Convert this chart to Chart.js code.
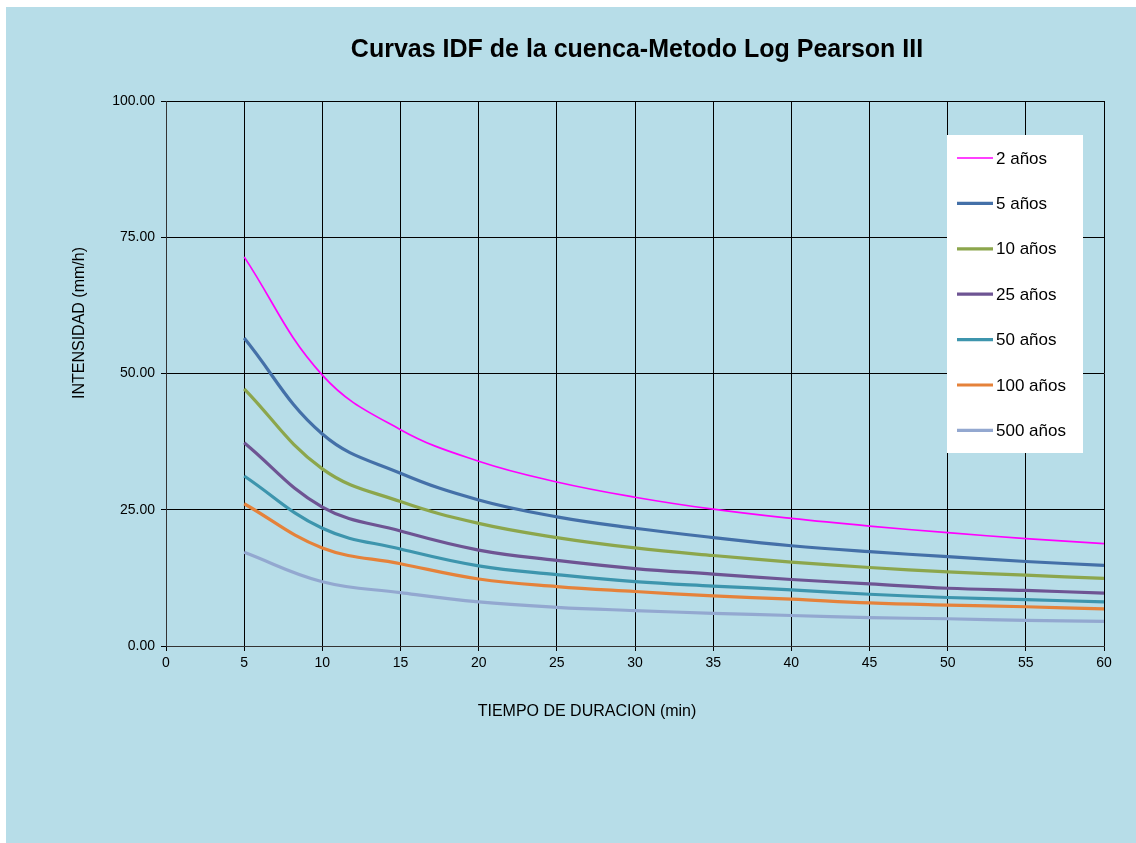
<!DOCTYPE html>
<html>
<head>
<meta charset="utf-8">
<script src="https://cdn.jsdelivr.net/npm/chart.js@4/dist/chart.umd.min.js"></script>
<style>
  html, body { margin: 0; padding: 0; background: #ffffff; }
  #wrap { position: absolute; left: 6px; top: 7px; width: 1130px; height: 836px; background: #b7dde8; }
  canvas { position: absolute; left: 0; top: 0; }
</style>
</head>
<body>
<div id="wrap"></div>
<canvas id="idf" width="1136" height="843"></canvas>
<script>
// duraciones (min)
const duracion = [5, 10, 15, 20, 25, 30, 35, 40, 45, 50, 55, 60];

// intensidades (mm/h) por periodo de retorno
const tr2   = [71.4, 49.7, 39.7, 33.9, 30.1, 27.3, 25.1, 23.4, 22.0, 20.8, 19.7, 18.8];
const tr5   = [56.5, 38.9, 31.7, 26.8, 23.7, 21.6, 19.9, 18.4, 17.3, 16.4, 15.5, 14.8];
const tr10  = [47.2, 32.5, 26.5, 22.5, 19.9, 18.0, 16.6, 15.4, 14.4, 13.6, 13.0, 12.4];
const tr25  = [37.3, 25.5, 21.1, 17.6, 15.7, 14.2, 13.2, 12.2, 11.4, 10.6, 10.2, 9.7];
const tr50  = [31.2, 21.6, 17.8, 14.7, 13.1, 11.8, 11.0, 10.3, 9.5, 8.9, 8.5, 8.1];
const tr100 = [26.1, 18.0, 15.1, 12.3, 10.9, 10.0, 9.2, 8.6, 7.9, 7.5, 7.2, 6.8];
const tr500 = [17.2, 11.8, 9.8, 8.1, 7.1, 6.5, 6.0, 5.6, 5.2, 5.0, 4.7, 4.5];

const etiquetas = ["2 años", "5 años", "10 años", "25 años", "50 años", "100 años", "500 años"];
const colores = ["#ff00ff", "#4470a8", "#8ca64c", "#6e5493", "#3d95ad", "#e5823a", "#93a8d0"];
const series = [tr2, tr5, tr10, tr25, tr50, tr100, tr500];

const titulo = "Curvas IDF de la cuenca-Metodo Log Pearson III";
const tituloX = "TIEMPO DE DURACION (min)";
const tituloY = "INTENSIDAD (mm/h)";

const FONT = "'Liberation Sans', Arial, sans-serif";

function puntos(valores) {
    return duracion.map((d, i) => ({ x: d, y: valores[i] }));
}

// titulos del grafico y de los ejes, al estilo de la hoja de calculo
const titulos = {
    id: 'titulos',
    afterDraw(chart) {
        const ctx = chart.ctx;
        const area = chart.chartArea;
        ctx.save();
        ctx.fillStyle = '#000000';
        ctx.textAlign = 'center';
        ctx.textBaseline = 'middle';

        ctx.font = 'bold 25px ' + FONT;
        ctx.fillText(titulo, (area.left + area.right) / 2 + 2, 50);

        ctx.font = '16px ' + FONT;
        ctx.fillText(tituloX, area.left + 421, area.bottom + 66);

        ctx.translate(80, area.top + 222);
        ctx.rotate(-Math.PI / 2);
        ctx.fillText(tituloY, 0, 0);
        ctx.restore();
    }
};

// leyenda dibujada dentro del area del grafico
const leyendaInterna = {
    id: 'leyendaInterna',
    afterDraw(chart) {
        const ctx = chart.ctx;
        const area = chart.chartArea;
        const x0 = area.right - 157, y0 = area.top + 34;
        const w = 136, h = 318, paso = 45.4;
        ctx.save();
        ctx.fillStyle = '#ffffff';
        ctx.fillRect(x0, y0, w, h);
        ctx.font = '17px ' + FONT;
        ctx.textBaseline = 'middle';
        chart.data.datasets.forEach((ds, i) => {
            const y = y0 + 23 + i * paso;
            ctx.strokeStyle = ds.borderColor;
            ctx.lineWidth = ds.borderWidth;
            ctx.beginPath();
            ctx.moveTo(x0 + 10, y);
            ctx.lineTo(x0 + 46, y);
            ctx.stroke();
            ctx.fillStyle = '#000000';
            ctx.fillText(ds.label, x0 + 49, y + 1);
        });
        ctx.restore();
    }
};

const grafico = new Chart(document.getElementById('idf'), {
    type: 'line',
    data: {
        datasets: series.map((s, i) => ({
            label: etiquetas[i],
            data: puntos(s),
            borderColor: colores[i],
            backgroundColor: colores[i],
            borderWidth: i === 0 ? 1.7 : 3.2,
            pointRadius: 0,
            fill: false,
            tension: 0.4
        }))
    },
    options: {
        responsive: false,
        animation: false,
        layout: { padding: { left: 64, right: 32, top: 101, bottom: 123 } },
        plugins: {
            legend: { display: false },
            tooltip: { enabled: false },
            title: { display: false }
        },
        scales: {
            x: {
                type: 'linear',
                min: 0,
                max: 60,
                afterFit: (scale) => { scale.height = 74; },
                ticks: { stepSize: 5, color: '#000000', padding: 4, font: { family: FONT, size: 14 } },
                grid: { color: '#000000', lineWidth: 1, tickLength: 5 },
                border: { color: '#333333' }
            },
            y: {
                min: 0,
                max: 100,
                afterFit: (scale) => { scale.width = 102; },
                ticks: {
                    stepSize: 25,
                    color: '#000000',
                    padding: 6,
                    font: { family: FONT, size: 14 },
                    callback: (v) => v.toFixed(2)
                },
                grid: { color: '#000000', lineWidth: 1, tickLength: 5 },
                border: { color: '#333333' }
            }
        }
    },
    plugins: [titulos, leyendaInterna]
});
</script>
</body>
</html>
